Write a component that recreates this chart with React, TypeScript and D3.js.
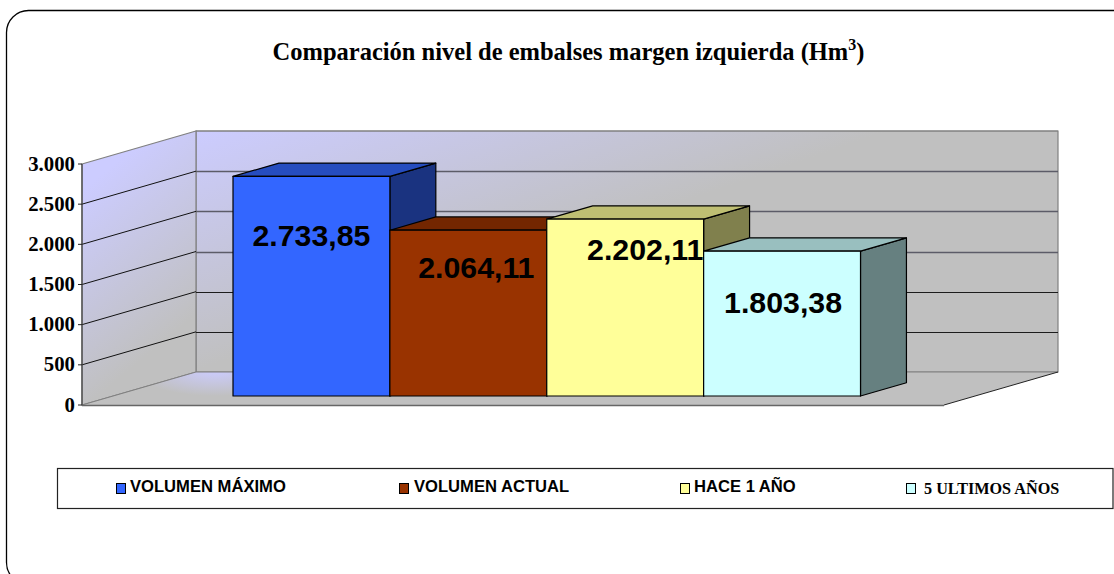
import React from "react";
import * as d3 from "d3";

const categories = ["VOLUMEN MÁXIMO", "VOLUMEN ACTUAL", "HACE 1 AÑO", "5 ULTIMOS AÑOS"];
const values = [2733.85, 2064.11, 2202.11, 1803.38];
const colors = ["#3366FF", "#993300", "#FFFF99", "#CCFFFF"];
const yTicks = [0, 500, 1000, 1500, 2000, 2500, 3000];

// layout
const W = 1114, H = 574;
const sans = "'Liberation Sans', Arial, sans-serif";
const serif = "'Liberation Serif', 'Times New Roman', serif";
const floorL = 82, floorR = 944, wallDx = 114, wallDy = -33;
const y = d3.scaleLinear().domain([0, 3000]).range([405, 164]);
const x = d3.scaleBand<string>().domain(categories).range([202, 829.5]);
const barD0 = 0.272, barD1 = 0.675;
const labelOffsets = [[0, 0], [8, 0], [20, 0], [1, 0]];
const labelYs = [246, 278, 259.5, 313];
const legendX = [116, 399, 680, 906];
const legendTextX = [130, 414, 694, 924];

const loc = d3.formatLocale({ decimal: ",", thousands: ".", grouping: [3], currency: ["", ""] });
const fmtTick = loc.format(",.0f");
const fmtVal = loc.format(",.2f");
const shade = (c: string, k: number) => d3.interpolateRgb("#000", c)(k);
const poly = (pts: number[][]) => d3.line()(pts as [number, number][])! + "Z";

export default function App() {
  const px = (X: number, d: number) => X + wallDx * d;
  const py = (Y: number, d: number) => Y + wallDy * d;
  const y0 = y(0), yT = y(3000);
  const line = "#808080";
  return (
    <svg width={W} height={H} style={{ position: "absolute", left: 0, top: 0, display: "block", background: "#fff" }}>
      <defs>
        <linearGradient id="back" gradientUnits="userSpaceOnUse" x1={196} y1={131} x2={270} y2={345}>
          <stop offset="0" stopColor="#CCCCFF" />
          <stop offset="1" stopColor="#C0C0C0" />
        </linearGradient>
        <linearGradient id="side" gradientUnits="userSpaceOnUse" x1={82} y1={190} x2={190} y2={320}>
          <stop offset="0" stopColor="#CCCCFF" />
          <stop offset="1" stopColor="#C0C0C0" />
        </linearGradient>
        <radialGradient id="floor" gradientUnits="userSpaceOnUse" cx={0} cy={0} r={1} gradientTransform="translate(215,370) scale(80,26)">
          <stop offset="0" stopColor="#CCCCFF" />
          <stop offset="1" stopColor="#C0C0C0" />
        </radialGradient>
      </defs>
      <rect x={6.5} y={10.5} width={1200} height={574} rx={22} fill="#fff" stroke="#000" strokeWidth={1.3} />

      <text x={568.5} y={60} textAnchor="middle" fontFamily={serif} fontWeight="bold" fontSize={24.5} fill="#000">
        Comparación nivel de embalses margen izquierda (Hm
        <tspan dy={-10} fontSize={16}>3</tspan>
        <tspan dy={10}>)</tspan>
      </text>

      {/* walls */}
      <path d={poly([[px(floorL, 1), py(yT, 1)], [px(floorR, 1), py(yT, 1)], [px(floorR, 1), py(y0, 1)], [px(floorL, 1), py(y0, 1)]])} fill="url(#back)" stroke={line} strokeWidth={1.2} />
      <path d={poly([[floorL, yT], [px(floorL, 1), py(yT, 1)], [px(floorL, 1), py(y0, 1)], [floorL, y0]])} fill="url(#side)" stroke={line} strokeWidth={1.2} />
      <path d={poly([[floorL, y0], [px(floorL, 1), py(y0, 1)], [px(floorR, 1), py(y0, 1)], [floorR, y0]])} fill="url(#floor)" />
      <path d={`M${px(floorL, 1)},${py(y0, 1)}H${px(floorR, 1)}`} stroke={line} fill="none" />
      <path d={`M${floorL},${y0}L${px(floorL, 1)},${py(y0, 1)}`} stroke={line} fill="none" />
      <path d={`M${floorL},${y0 + 0.5}H${floorR}`} stroke="#666" strokeWidth={1.6} fill="none" />
      <path d={`M${floorR},${y0}L${px(floorR, 1)},${py(y0, 1)}`} stroke="#222" strokeWidth={1} fill="none" />

      {/* gridlines */}
      {yTicks.filter(t => t > 0 && t < 3000).map(t => {
        const col = t >= 1500 ? "#5c5c68" : "#1c1c1c";
        return (
          <g key={t} fill="none">
            <path d={`M${floorL},${y(t)}L${px(floorL, 1)},${py(y(t), 1)}`} stroke="#111" strokeWidth={1} />
            <path d={`M${px(floorL, 1)},${Math.round(py(y(t), 1)) + 0.5}H${px(floorR, 1)}`} stroke={col} strokeWidth={t >= 1500 ? 1.3 : 1} />
          </g>
        );
      })}
      <path d={`M${px(floorL, 1)},${py(yT, 1)}H${px(floorR, 1)}`} stroke={line} strokeWidth={1.2} fill="none" />

      {/* axis */}
      <path d={`M${floorL},${yT}V${y0}`} stroke="#444" strokeWidth={1.2} fill="none" />
      {yTicks.map(t => (
        <g key={t}>
          <path d={`M${floorL - 4},${y(t)}H${floorL}`} stroke="#222" strokeWidth={1} />
          <text x={75} y={y(t) + 6.5} textAnchor="end" fontFamily={serif} fontWeight="bold" fontSize={20.8} fill="#000">{fmtTick(t)}</text>
        </g>
      ))}

      {/* bars */}
      {categories.map((c, i) => {
        const xl = x(c)!, xr = xl + x.bandwidth();
        const top = y(values[i]);
        const bot = y0;
        const a = barD0, b = barD1;
        return (
          <g key={c} stroke="#000" strokeWidth={1.2} strokeLinejoin="round">
            <path d={poly([[px(xr, a), py(top, a)], [px(xr, b), py(top, b)], [px(xr, b), py(bot, b)], [px(xr, a), py(bot, a)]])} fill={shade(colors[i], 0.5)} />
            <path d={poly([[px(xl, a), py(top, a)], [px(xl, b), py(top, b)], [px(xr, b), py(top, b)], [px(xr, a), py(top, a)]])} fill={shade(colors[i], 0.75)} />
            <path d={poly([[px(xl, a), py(top, a)], [px(xr, a), py(top, a)], [px(xr, a), py(bot, a)], [px(xl, a), py(bot, a)]])} fill={colors[i]} />
          </g>
        );
      })}
      {categories.map((c, i) => (
        <text key={c} x={px(x(c)!, barD0) + x.bandwidth() / 2 + labelOffsets[i][0]} y={labelYs[i]} textAnchor="middle"
          fontFamily={sans} fontWeight="bold" fontSize={30.3} fill="#000">{fmtVal(values[i])}</text>
      ))}

      {/* legend */}
      <rect x={57.5} y={468.5} width={1055.5} height={40} fill="#fff" stroke="#222" strokeWidth={1.2} />
      {categories.map((c, i) => (
        <g key={c}>
          <rect x={legendX[i] + 0.5} y={483.5} width={9} height={10} fill={colors[i]} stroke="#000" strokeWidth={1} />
          <text x={legendTextX[i]} y={i === 3 ? 494 : 492} fontFamily={i === 3 ? serif : sans} fontWeight="bold" fontSize={i === 3 ? 16.2 : 16.6} fill="#000">{c}</text>
        </g>
      ))}
    </svg>
  );
}
